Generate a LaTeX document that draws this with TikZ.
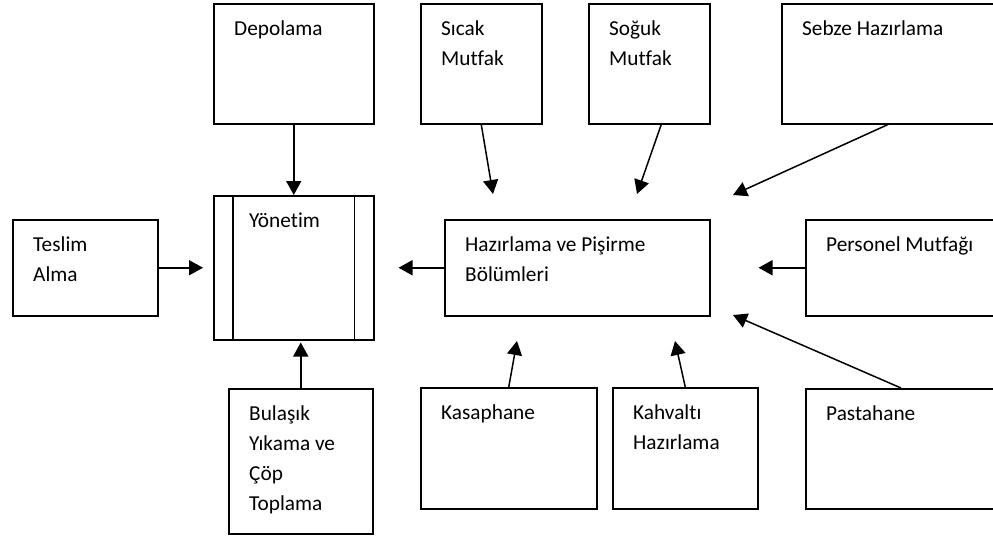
\documentclass[tikz,border=0pt]{standalone}
\usepackage{fontspec}
\setmainfont[Ligatures=NoCommon]{Carlito}
\usetikzlibrary{arrows.meta}
\newcommand{\mlines}[1]{\begin{tabular}[t]{@{}l@{}}#1\end{tabular}}
\begin{document}
\begin{tikzpicture}[x=1pt,y=-1pt,
  boxline/.style={draw=black, line width=1.5pt},
  box/.style={boxline, rectangle, anchor=north west, inner sep=0pt},
  lbl/.style={anchor=base west, inner sep=0pt, font=\fontsize{21.3}{30}\selectfont},
  arr/.style={line width=1.5pt, -{Triangle[length=14pt,width=15pt]}}]
\useasboundingbox (0,0) rectangle (993,536);
\clip (0,0) rectangle (993,536);

% boxes
\node[box, minimum width=160pt, minimum height=120pt] (dep) at (213,3) {};
\node[box, minimum width=121pt, minimum height=120pt] (sic) at (420,3) {};
\node[box, minimum width=121pt, minimum height=120pt] (sog) at (588,3) {};
\node[box, minimum width=240pt, minimum height=120pt] (seb) at (781,3) {};
\node[box, minimum width=145pt, minimum height=96pt] (tes) at (12,219) {};
\node[box, minimum width=160pt, minimum height=144pt] (yon) at (213,195) {};
\node[box, minimum width=265pt, minimum height=96pt] (haz) at (444,219) {};
\node[box, minimum width=220pt, minimum height=96pt] (per) at (805,219) {};
\node[box, minimum width=144pt, minimum height=145pt] (bul) at (228,388) {};
\node[box, minimum width=176pt, minimum height=121pt] (kas) at (420,387) {};
\node[box, minimum width=145pt, minimum height=121pt] (kah) at (612,387) {};
\node[box, minimum width=220pt, minimum height=120pt] (pas) at (805,388) {};

% inner lines of Yönetim
\draw[boxline] ([xshift=20pt]yon.north west) -- ([xshift=20pt]yon.south west);
\draw[boxline] ([xshift=-20pt]yon.north east) -- ([xshift=-20pt]yon.south east);

% labels
\node[lbl] (dep-t) at ([shift={(21,32)}]dep.north west) {Depolama};
\node[lbl] (sic-t) at ([shift={(21,32)}]sic.north west) {\mlines{Sıcak\\Mutfak}};
\node[lbl] (sog-t) at ([shift={(21,32)}]sog.north west) {\mlines{Soğuk\\Mutfak}};
\node[lbl] (seb-t) at ([shift={(21,32)}]seb.north west) {Sebze Hazırlama};
\node[lbl] (tes-t) at ([shift={(21,32)}]tes.north west) {\mlines{Teslim\\Alma}};
\node[lbl] (yon-t) at ([shift={(36,32)}]yon.north west) {Yönetim};
\node[lbl] (haz-t) at ([shift={(21,32)}]haz.north west) {\mlines{Hazırlama ve Pişirme\\Bölümleri}};
\node[lbl] (per-t) at ([shift={(21,32)}]per.north west) {Personel Mutfağı};
\node[lbl] (bul-t) at ([shift={(21,32)}]bul.north west) {\mlines{Bulaşık\\Yıkama ve\\Çöp\\Toplama}};
\node[lbl] (kas-t) at ([shift={(21,32)}]kas.north west) {Kasaphane};
\node[lbl] (kah-t) at ([shift={(21,32)}]kah.north west) {\mlines{Kahvaltı\\Hazırlama}};
\node[lbl] (pas-t) at ([shift={(21,32)}]pas.north west) {Pastahane};

% arrow tip coordinates
\coordinate (tsic) at (493,194);
\coordinate (tsog) at (637,194);
\coordinate (tseb) at (733,195);
\coordinate (tkas) at (517,341);
\coordinate (tkah) at (675,341);
\coordinate (tpas) at (733,315);

% connectors
\draw[arr] (dep.south) -- (yon.north);
\draw[arr, shorten >=10pt] (tes.east) -- (yon.west);
\draw[arr, shorten >=24pt] (haz.west) -- (yon.east);
\draw[arr, shorten >=48pt] (per.west) -- (haz.east);
\draw[arr, shorten >=2pt] (bul.north) -- (bul.north |- yon.south);
\draw[arr] (sic.south) -- (tsic);
\draw[arr] ([xshift=12pt]sog.south) -- (tsog);
\draw[arr] ([xshift=107pt]seb.south west) -- (tseb);
\draw[arr] (kas.north) -- (tkas);
\draw[arr] (kah.north) -- (tkah);
\draw[arr] ([xshift=96pt]pas.north west) -- (tpas);
\end{tikzpicture}
\end{document}
